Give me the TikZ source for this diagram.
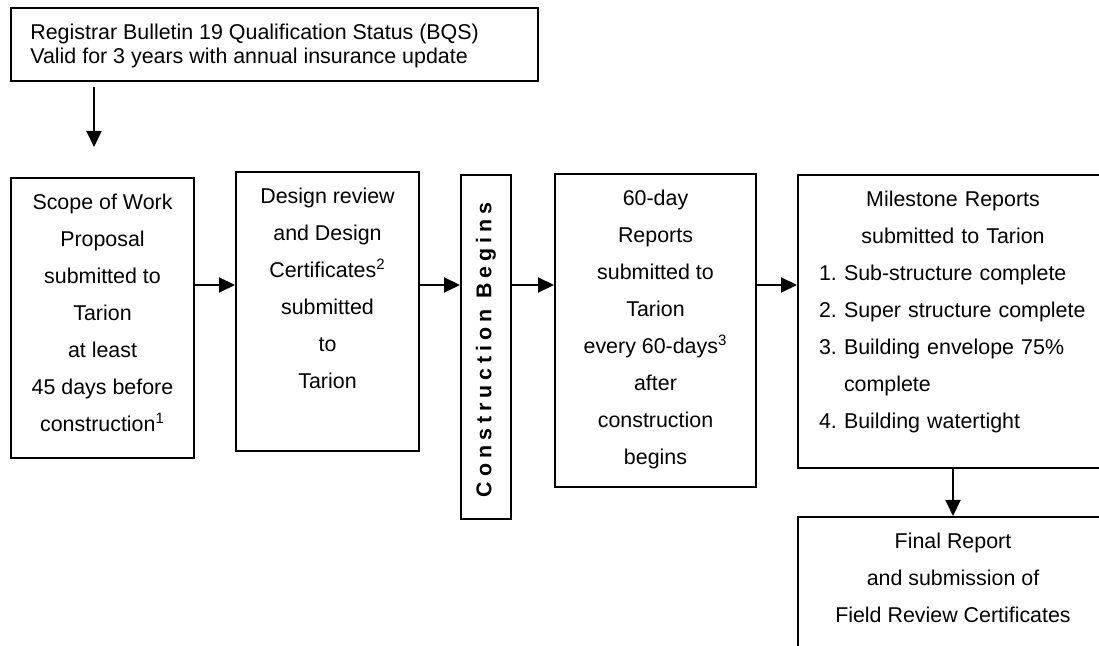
\documentclass[tikz,border=0pt]{standalone}
\usepackage{fontspec}
\setmainfont{Liberation Sans}
\usetikzlibrary{arrows.meta}

\tikzset{
  stepbox/.style={draw, line width=1pt, inner sep=0pt, anchor=north west},
  boxtext/.style={anchor=north, inner sep=0pt, align=center, font=\fontsize{10.7}{18.5}\selectfont},
  flow/.style={line width=1pt, -{Triangle[length=8pt, width=7.5pt]}}
}
\newcommand{\mitem}[2]{\makebox[12.5pt][l]{#1}#2}

\begin{document}
\begin{tikzpicture}[x=0.5pt, y=-0.5pt]
  \useasboundingbox (0,0) rectangle (1099,646);
  \clip (0,0) rectangle (1099,646);

  % Qualification status
  \node[stepbox, minimum width=263.5pt, minimum height=36.5pt] (bqs) at (10,7) {};
  \node[anchor=north west, inner sep=0pt, align=left, font=\fontsize{10.7}{11.8}\selectfont] (bqstext)
    at ([xshift=10pt, yshift=-8.5pt]bqs.north west)
    {Registrar Bulletin 19 Qualification Status (BQS)\\Valid for 3 years with annual insurance update};

  % Boxes of the main row
  \node[stepbox, minimum width=91.5pt, minimum height=140pt] (scope) at (10,177) {};
  \node[stepbox, minimum width=91.5pt, minimum height=139.5pt] (design) at (235,171) {};
  \node[stepbox, minimum width=25pt, minimum height=172pt] (constr) at (460,174) {};
  \node[stepbox, minimum width=100.5pt, minimum height=156.5pt] (report) at (554,173) {};
  \node[stepbox, minimum width=155pt, minimum height=146.5pt] (milestone) at (797,174) {};
  \node[stepbox, minimum width=155pt, minimum height=90pt] (final) at (797,516) {};

  % Texts
  \node[boxtext] (scopetext) at ([yshift=-8.5pt]scope.north)
    {Scope of Work\\Proposal\\submitted to\\Tarion\\at least\\45 days before\\construction\textsuperscript{1}};
  \node[boxtext] (designtext) at ([yshift=-8.5pt]design.north)
    {Design review\\and Design\\Certificates\textsuperscript{2}\\submitted\\to\\Tarion};
  \node[rotate=90, inner sep=0pt, font=\fontsize{10.7}{12}\selectfont\bfseries\addfontfeature{LetterSpace=23}] (constrtext)
    at ([yshift=-1.5pt]constr.center) {Construction Begins};
  \node[boxtext] (reporttext) at ([yshift=-8.5pt]report.north)
    {60-day\\Reports\\submitted to\\Tarion\\every 60-days\textsuperscript{3}\\after\\construction\\begins};
  \node[boxtext, align=left, text width=134pt] (milestonetext) at ([yshift=-8.5pt]milestone.north)
    {\makebox[134pt]{Milestone Reports}\\
     \makebox[134pt]{submitted to Tarion}\\
     \mitem{1.}{Sub-structure complete}\\
     \mitem{2.}{Super structure complete}\\
     \mitem{3.}{Building envelope 75\%}\\
     \mitem{}{complete}\\
     \mitem{4.}{Building watertight}};
  \node[boxtext] (finaltext) at ([yshift=-8.5pt]final.north)
    {Final Report\\and submission of\\Field Review Certificates};

  % Arrows
  \coordinate (entry) at (94,147);
  \coordinate (row) at (0,285);
  \draw[flow] ([yshift=-2.5pt]bqs.south -| entry) -- (entry);
  \draw[flow] (scope.east |- row) -- (design.west |- row);
  \draw[flow] (design.east |- row) -- (constr.west |- row);
  \draw[flow] (constr.east |- row) -- (report.west |- row);
  \draw[flow] (report.east |- row) -- (milestone.west |- row);
  \draw[flow] (milestone.south) -- (final.north);

\end{tikzpicture}
\end{document}
